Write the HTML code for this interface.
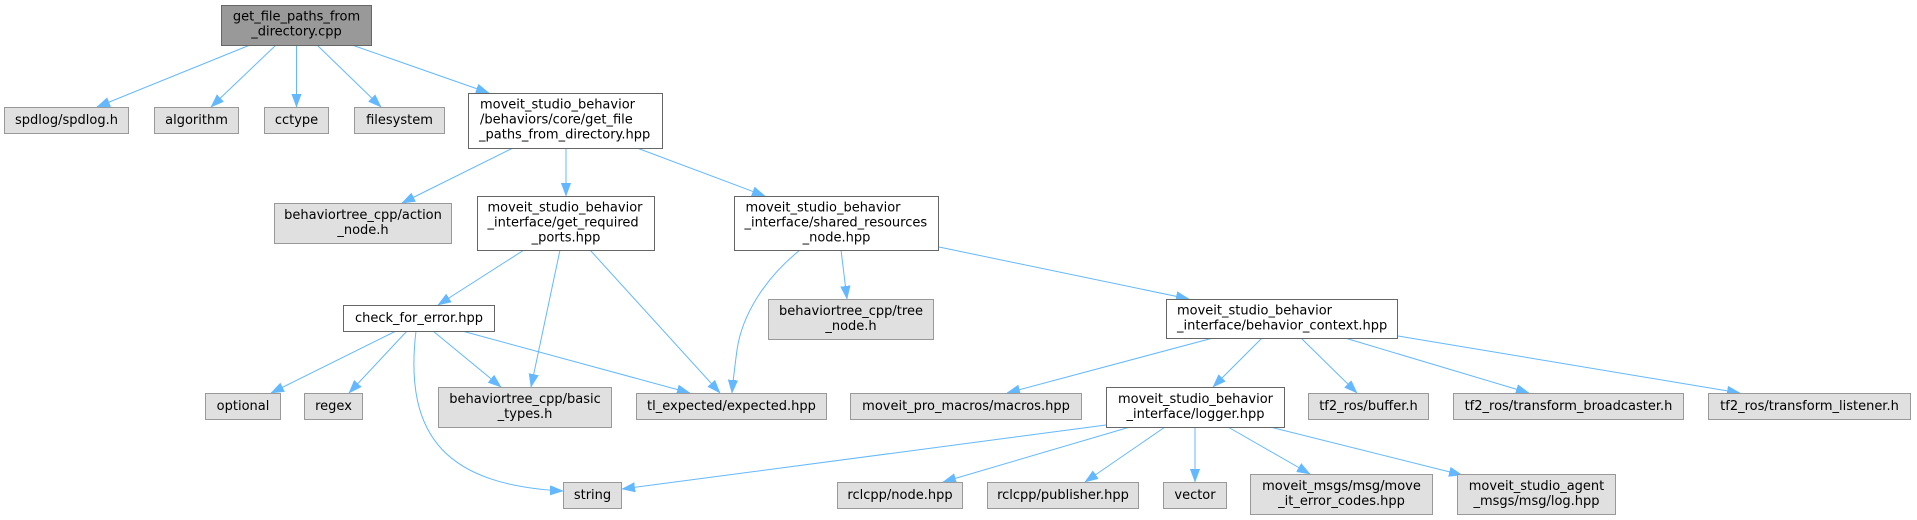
<!DOCTYPE html>
<html>
<head>
<meta charset="utf-8">
<style>
  html, body { margin:0; padding:0; background:#ffffff; }
  body { width:1917px; height:520px; overflow:hidden; }
  svg { display:block; }
  text { font-family: "DejaVu Sans", "Liberation Sans", sans-serif; font-size:13px; fill:#000; }
  .e { fill:none; stroke:#63b8ff; stroke-width:1; }
  .g { fill:#e0e0e0; stroke:#999999; stroke-width:1; }
  .w { fill:#ffffff; stroke:#666666; stroke-width:1; }
  .r { fill:#999999; stroke:#666666; stroke-width:1; }
</style>
</head>
<body>
<svg width="1917" height="520" viewBox="0 0 1917 520" xmlns="http://www.w3.org/2000/svg">
  <defs>
    <marker id="ah" markerUnits="userSpaceOnUse" markerWidth="14" markerHeight="12" refX="13" refY="5" orient="auto">
      <path d="M0,0.2 L13,5 L0,9.8 z" fill="#63b8ff" stroke="#63b8ff" stroke-width="0.5"/>
    </marker>
  </defs>

  <!-- edges -->
  <g marker-end="url(#ah)">
    <path class="e" d="M250,45 L97,107" marker-end="url(#ah)"/>
    <path class="e" d="M276,45 L211,107" marker-end="url(#ah)"/>
    <path class="e" d="M296.5,45 L296.5,107" marker-end="url(#ah)"/>
    <path class="e" d="M317,45 L381,107" marker-end="url(#ah)"/>
    <path class="e" d="M352,45 L489,93" marker-end="url(#ah)"/>

    <path class="e" d="M513,148 L402,203" marker-end="url(#ah)"/>
    <path class="e" d="M566,148 L566,196" marker-end="url(#ah)"/>
    <path class="e" d="M637,148 L765,196" marker-end="url(#ah)"/>

    <path class="e" d="M524,250 L438,305" marker-end="url(#ah)"/>
    <path class="e" d="M560,250 L531,387" marker-end="url(#ah)"/>
    <path class="e" d="M590,250 L720,393" marker-end="url(#ah)"/>

    <path class="e" d="M800,250 C765,278 742,315 737,350 C735,365 733,380 732,393" marker-end="url(#ah)"/>
    <path class="e" d="M841,250 L847,299" marker-end="url(#ah)"/>
    <path class="e" d="M939,247 L1189,299" marker-end="url(#ah)"/>

    <path class="e" d="M396,331 L271,393" marker-end="url(#ah)"/>
    <path class="e" d="M407,331 L349,393" marker-end="url(#ah)"/>
    <path class="e" d="M416,331 C403,440 450,485 563,491" marker-end="url(#ah)"/>
    <path class="e" d="M433,331 L501,387" marker-end="url(#ah)"/>
    <path class="e" d="M462,331 L690,393" marker-end="url(#ah)"/>

    <path class="e" d="M1213,338 L1007,393" marker-end="url(#ah)"/>
    <path class="e" d="M1262,338 L1213,387" marker-end="url(#ah)"/>
    <path class="e" d="M1301,338 L1357,393" marker-end="url(#ah)"/>
    <path class="e" d="M1345,338 L1529,393" marker-end="url(#ah)"/>
    <path class="e" d="M1398,336 L1740,393" marker-end="url(#ah)"/>

    <path class="e" d="M1106,425 L622,489" marker-end="url(#ah)"/>
    <path class="e" d="M1130,427 L943,482" marker-end="url(#ah)"/>
    <path class="e" d="M1165,427 L1085,482" marker-end="url(#ah)"/>
    <path class="e" d="M1195,427 L1195,482" marker-end="url(#ah)"/>
    <path class="e" d="M1228,427 L1310,474" marker-end="url(#ah)"/>
    <path class="e" d="M1270,427 L1462,475" marker-end="url(#ah)"/>
  </g>

  <!-- nodes -->
  <rect class="r" x="221.5" y="5.5" width="150" height="40"/>
  <text x="296.5" y="20.5" text-anchor="middle">get_file_paths_from</text>
  <text x="296.5" y="35.5" text-anchor="middle">_directory.cpp</text>

  <rect class="g" x="4.5" y="107.5" width="124" height="26"/>
  <text x="66.5" y="124" text-anchor="middle">spdlog/spdlog.h</text>

  <rect class="g" x="154.5" y="107.5" width="84" height="26"/>
  <text x="196.5" y="124" text-anchor="middle">algorithm</text>

  <rect class="g" x="264.5" y="107.5" width="64" height="26"/>
  <text x="296.5" y="124" text-anchor="middle">cctype</text>

  <rect class="g" x="354.5" y="107.5" width="90" height="26"/>
  <text x="399.5" y="124" text-anchor="middle">filesystem</text>

  <rect class="w" x="468.5" y="93.5" width="194" height="55"/>
  <text x="480" y="108.5">moveit_studio_behavior</text>
  <text x="480" y="123.5">/behaviors/core/get_file</text>
  <text x="479" y="138.5">_paths_from_directory.hpp</text>

  <rect class="g" x="274.5" y="203.5" width="177" height="40"/>
  <text x="363" y="219" text-anchor="middle">behaviortree_cpp/action</text>
  <text x="363" y="234" text-anchor="middle">_node.h</text>

  <rect class="w" x="477.5" y="196.5" width="177" height="54"/>
  <text x="487.5" y="211.5">moveit_studio_behavior</text>
  <text x="487.5" y="226.5">_interface/get_required</text>
  <text x="566" y="241.5" text-anchor="middle">_ports.hpp</text>

  <rect class="w" x="734.5" y="196.5" width="204" height="54"/>
  <text x="745.5" y="211.5">moveit_studio_behavior</text>
  <text x="744.5" y="226.5">_interface/shared_resources</text>
  <text x="836.5" y="241.5" text-anchor="middle">_node.hpp</text>

  <rect class="g" x="768.5" y="299.5" width="165" height="40"/>
  <text x="851" y="315" text-anchor="middle">behaviortree_cpp/tree</text>
  <text x="851" y="330" text-anchor="middle">_node.h</text>

  <rect class="w" x="343.5" y="305.5" width="151" height="26"/>
  <text x="419" y="322" text-anchor="middle">check_for_error.hpp</text>

  <rect class="w" x="1166.5" y="299.5" width="231" height="39"/>
  <text x="1177" y="314.5">moveit_studio_behavior</text>
  <text x="1177" y="329.5">_interface/behavior_context.hpp</text>

  <rect class="g" x="205.5" y="393.5" width="75" height="26"/>
  <text x="243" y="410" text-anchor="middle">optional</text>

  <rect class="g" x="304.5" y="393.5" width="58" height="26"/>
  <text x="333.5" y="410" text-anchor="middle">regex</text>

  <rect class="g" x="438.5" y="387.5" width="173" height="40"/>
  <text x="525" y="403" text-anchor="middle">behaviortree_cpp/basic</text>
  <text x="525" y="418" text-anchor="middle">_types.h</text>

  <rect class="g" x="636.5" y="393.5" width="190" height="26"/>
  <text x="731.5" y="410" text-anchor="middle">tl_expected/expected.hpp</text>

  <rect class="g" x="850.5" y="393.5" width="231" height="26"/>
  <text x="966" y="410" text-anchor="middle">moveit_pro_macros/macros.hpp</text>

  <rect class="w" x="1106.5" y="387.5" width="178" height="40"/>
  <text x="1195.5" y="403" text-anchor="middle">moveit_studio_behavior</text>
  <text x="1195.5" y="418" text-anchor="middle">_interface/logger.hpp</text>

  <rect class="g" x="1308.5" y="393.5" width="120" height="26"/>
  <text x="1368.5" y="410" text-anchor="middle">tf2_ros/buffer.h</text>

  <rect class="g" x="1453.5" y="393.5" width="230" height="26"/>
  <text x="1568.5" y="410" text-anchor="middle">tf2_ros/transform_broadcaster.h</text>

  <rect class="g" x="1708.5" y="393.5" width="202" height="26"/>
  <text x="1809.5" y="410" text-anchor="middle">tf2_ros/transform_listener.h</text>

  <rect class="g" x="563.5" y="482.5" width="58" height="26"/>
  <text x="592.5" y="499" text-anchor="middle">string</text>

  <rect class="g" x="837.5" y="482.5" width="125" height="26"/>
  <text x="900" y="499" text-anchor="middle">rclcpp/node.hpp</text>

  <rect class="g" x="987.5" y="482.5" width="151" height="26"/>
  <text x="1063" y="499" text-anchor="middle">rclcpp/publisher.hpp</text>

  <rect class="g" x="1163.5" y="482.5" width="63" height="26"/>
  <text x="1195" y="499" text-anchor="middle">vector</text>

  <rect class="g" x="1250.5" y="474.5" width="182" height="40"/>
  <text x="1341.5" y="490" text-anchor="middle">moveit_msgs/msg/move</text>
  <text x="1341.5" y="505" text-anchor="middle">_it_error_codes.hpp</text>

  <rect class="g" x="1457.5" y="474.5" width="158" height="40"/>
  <text x="1536.5" y="490" text-anchor="middle">moveit_studio_agent</text>
  <text x="1536.5" y="505" text-anchor="middle">_msgs/msg/log.hpp</text>
</svg>
</body>
</html>
